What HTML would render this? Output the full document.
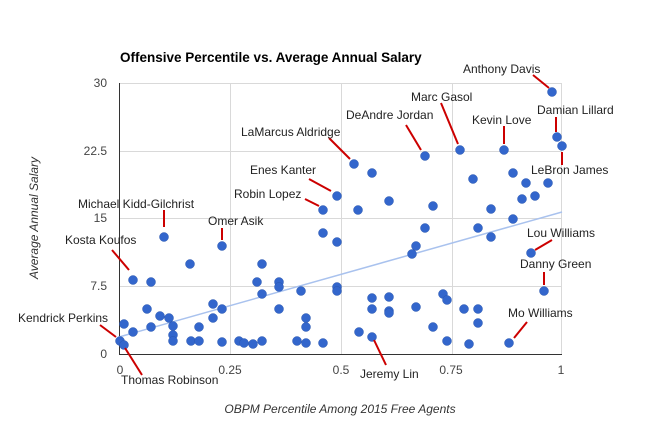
<!DOCTYPE html>
<html><head><meta charset="utf-8"><style>
html,body{margin:0;padding:0;background:#fff;}
svg{display:block;font-family:"Liberation Sans",Arial,sans-serif;}
</style></head><body>
<svg width="650" height="432" viewBox="0 0 650 432" xmlns="http://www.w3.org/2000/svg">
<rect width="650" height="432" fill="#fff"/>
<text x="120" y="62" font-size="13.5" font-weight="bold" fill="#000">Offensive Percentile vs. Average Annual Salary</text>
<g stroke="#d9d9d9" stroke-width="1">
<line x1="119" y1="83.5" x2="562" y2="83.5"/>
<line x1="119" y1="151.5" x2="562" y2="151.5"/>
<line x1="119" y1="218.5" x2="562" y2="218.5"/>
<line x1="119" y1="286.5" x2="562" y2="286.5"/>
<line x1="230.5" y1="83" x2="230.5" y2="354"/>
<line x1="341.5" y1="83" x2="341.5" y2="354"/>
<line x1="452.5" y1="83" x2="452.5" y2="354"/>
<line x1="561.5" y1="83" x2="561.5" y2="354"/>
</g>
<line x1="119.5" y1="83" x2="119.5" y2="354" stroke="#333"/>
<line x1="119" y1="354.5" x2="562" y2="354.5" stroke="#333"/>
<g font-size="12" fill="#444" text-anchor="end">
<text x="107" y="87">30</text><text x="107" y="155">22.5</text><text x="107" y="222">15</text><text x="107" y="290">7.5</text><text x="107" y="358">0</text>
</g>
<g font-size="12" fill="#444" text-anchor="middle">
<text x="120" y="374">0</text><text x="230" y="374">0.25</text><text x="341" y="374">0.5</text><text x="451" y="374">0.75</text><text x="561" y="374">1</text>
</g>
<text x="340" y="413" font-size="12" font-style="italic" fill="#333" text-anchor="middle">OBPM Percentile Among 2015 Free Agents</text>
<text transform="translate(38,218) rotate(-90)" font-size="12" font-style="italic" fill="#333" text-anchor="middle">Average Annual Salary</text>
<line x1="119" y1="337" x2="562" y2="212" stroke="#a9c2ee" stroke-width="1.5"/>
<g fill="#3366cc" stroke="#2a57b0" stroke-width="0.5">
<circle cx="552" cy="92" r="4.5"/><circle cx="557" cy="137" r="4.5"/><circle cx="562" cy="146" r="4.5"/>
<circle cx="425" cy="156" r="4.5"/><circle cx="460" cy="150" r="4.5"/><circle cx="504" cy="150" r="4.5"/>
<circle cx="473" cy="179" r="4.5"/><circle cx="513" cy="173" r="4.5"/><circle cx="526" cy="183" r="4.5"/><circle cx="548" cy="183" r="4.5"/>
<circle cx="522" cy="199" r="4.5"/><circle cx="535" cy="196" r="4.5"/><circle cx="491" cy="209" r="4.5"/><circle cx="513" cy="219" r="4.5"/>
<circle cx="433" cy="206" r="4.5"/><circle cx="389" cy="201" r="4.5"/><circle cx="425" cy="228" r="4.5"/><circle cx="478" cy="228" r="4.5"/>
<circle cx="491" cy="237" r="4.5"/><circle cx="416" cy="246" r="4.5"/><circle cx="412" cy="254" r="4.5"/><circle cx="531" cy="253" r="4.5"/>
<circle cx="354" cy="164" r="4.5"/><circle cx="372" cy="173" r="4.5"/><circle cx="337" cy="196" r="4.5"/><circle cx="323" cy="210" r="4.5"/><circle cx="358" cy="210" r="4.5"/>
<circle cx="323" cy="233" r="4.5"/><circle cx="337" cy="242" r="4.5"/><circle cx="164" cy="237" r="4.5"/><circle cx="222" cy="246" r="4.5"/>
<circle cx="190" cy="264" r="4.5"/><circle cx="262" cy="264" r="4.5"/><circle cx="133" cy="280" r="4.5"/><circle cx="151" cy="282" r="4.5"/>
<circle cx="257" cy="282" r="4.5"/><circle cx="279" cy="282" r="4.5"/><circle cx="279" cy="287" r="4.5"/><circle cx="337" cy="287" r="4.5"/><circle cx="337" cy="291" r="4.5"/>
<circle cx="301" cy="291" r="4.5"/><circle cx="262" cy="294" r="4.5"/><circle cx="147" cy="309" r="4.5"/><circle cx="160" cy="316" r="4.5"/><circle cx="169" cy="318" r="4.5"/>
<circle cx="213" cy="304" r="4.5"/><circle cx="213" cy="318" r="4.5"/><circle cx="222" cy="309" r="4.5"/><circle cx="279" cy="309" r="4.5"/><circle cx="306" cy="318" r="4.5"/><circle cx="306" cy="327" r="4.5"/>
<circle cx="124" cy="324" r="4.5"/><circle cx="133" cy="332" r="4.5"/><circle cx="151" cy="327" r="4.5"/><circle cx="173" cy="326" r="4.5"/><circle cx="173" cy="335" r="4.5"/><circle cx="173" cy="341" r="4.5"/>
<circle cx="199" cy="327" r="4.5"/><circle cx="191" cy="341" r="4.5"/><circle cx="199" cy="341" r="4.5"/><circle cx="222" cy="342" r="4.5"/><circle cx="239" cy="341" r="4.5"/><circle cx="244" cy="343" r="4.5"/>
<circle cx="253" cy="344" r="4.5"/><circle cx="262" cy="341" r="4.5"/><circle cx="297" cy="341" r="4.5"/><circle cx="306" cy="343" r="4.5"/><circle cx="323" cy="343" r="4.5"/>
<circle cx="120" cy="341" r="4.5"/><circle cx="124" cy="345" r="4.5"/><circle cx="359" cy="332" r="4.5"/><circle cx="372" cy="337" r="4.5"/>
<circle cx="372" cy="298" r="4.5"/><circle cx="372" cy="309" r="4.5"/><circle cx="389" cy="297" r="4.5"/><circle cx="389" cy="311" r="4.5"/><circle cx="389" cy="313" r="4.5"/>
<circle cx="544" cy="291" r="4.5"/><circle cx="416" cy="307" r="4.5"/><circle cx="443" cy="294" r="4.5"/><circle cx="447" cy="300" r="4.5"/><circle cx="464" cy="309" r="4.5"/>
<circle cx="478" cy="309" r="4.5"/><circle cx="478" cy="323" r="4.5"/><circle cx="433" cy="327" r="4.5"/><circle cx="447" cy="341" r="4.5"/><circle cx="469" cy="344" r="4.5"/><circle cx="509" cy="343" r="4.5"/>
</g>
<g stroke="#cc0000" stroke-width="2">
<line x1="533" y1="75" x2="549" y2="88"/><line x1="441" y1="103" x2="458" y2="144"/><line x1="504" y1="126" x2="504" y2="144"/>
<line x1="556" y1="117" x2="556" y2="132"/><line x1="562" y1="152" x2="562" y2="165"/><line x1="406" y1="125" x2="421" y2="150"/>
<line x1="329" y1="138" x2="350" y2="159"/><line x1="309" y1="179" x2="331" y2="191"/><line x1="305" y1="199" x2="319" y2="206"/>
<line x1="164" y1="210" x2="164" y2="227"/><line x1="222" y1="228" x2="222" y2="240"/><line x1="112" y1="250" x2="129" y2="270"/>
<line x1="100" y1="325" x2="116" y2="337"/><line x1="125" y1="348" x2="142" y2="375"/><line x1="374" y1="340" x2="386" y2="365"/>
<line x1="527" y1="322" x2="514" y2="338"/><line x1="544" y1="272" x2="544" y2="285"/><line x1="552" y1="240" x2="535" y2="250"/>
</g>
<g font-size="12" fill="#222">
<text x="463" y="73">Anthony Davis</text>
<text x="411" y="101">Marc Gasol</text>
<text x="472" y="124">Kevin Love</text>
<text x="537" y="114">Damian Lillard</text>
<text x="531" y="174">LeBron James</text>
<text x="346" y="119">DeAndre Jordan</text>
<text x="241" y="136">LaMarcus Aldridge</text>
<text x="250" y="174">Enes Kanter</text>
<text x="234" y="198">Robin Lopez</text>
<text x="78" y="208">Michael Kidd-Gilchrist</text>
<text x="208" y="225">Omer Asik</text>
<text x="65" y="244">Kosta Koufos</text>
<text x="18" y="322">Kendrick Perkins</text>
<text x="121" y="384">Thomas Robinson</text>
<text x="360" y="378">Jeremy Lin</text>
<text x="508" y="317">Mo Williams</text>
<text x="520" y="268">Danny Green</text>
<text x="527" y="237">Lou Williams</text>
</g>
</svg>
</body></html>
